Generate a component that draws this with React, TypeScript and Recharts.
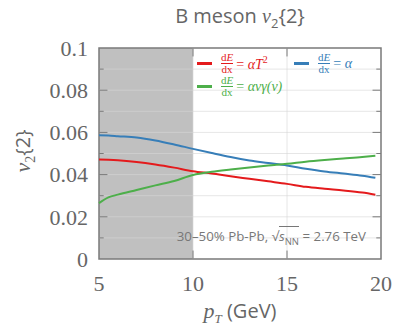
import React from "react";
import {
  LineChart,
  Line,
  XAxis,
  YAxis,
  ReferenceArea,
  ReferenceLine,
} from "recharts";

const pT = [5, 5.5, 6, 7, 8, 9, 10, 11, 12, 13, 14, 15, 16, 17, 18, 19, 19.7];
const vT2 = [0.0471, 0.047, 0.0468, 0.046, 0.0448, 0.0433, 0.0416, 0.0405, 0.0392, 0.038, 0.0368, 0.0356, 0.0342, 0.0333, 0.0325, 0.0315, 0.0305];
const vConst = [0.0586, 0.0585, 0.0582, 0.0576, 0.0562, 0.0543, 0.0522, 0.0502, 0.0483, 0.0467, 0.0455, 0.0443, 0.0428, 0.0415, 0.0405, 0.0395, 0.0385];
const vGamma = [0.0265, 0.0292, 0.0305, 0.0327, 0.0349, 0.037, 0.0398, 0.0413, 0.0424, 0.0434, 0.0443, 0.0451, 0.0461, 0.0469, 0.0476, 0.0483, 0.0489];

const xTicks = [5, 10, 15, 20];
const yTicks = [0, 0.02, 0.04, 0.06, 0.08, 0.1];
const yMinor = [0.01, 0.03, 0.05, 0.07, 0.09];
const yGrid = [0.01, 0.02, 0.03, 0.04, 0.05, 0.06, 0.07, 0.08, 0.09];
const xGrid = [10, 15];

const RED = "#e41a1c";
const BLUE = "#377eb8";
const GREEN = "#4daf4a";
const FRAME = "#7a7a7a";
const TEXT = "#666";

const data = pT.map((x, i) => ({ x, t2: vT2[i], c: vConst[i], g: vGamma[i] }));

const serif = "'Liberation Serif', 'DejaVu Serif', serif";
const sans = "'Open Sans', 'Noto Sans', sans-serif";

function Frac({ color }: { color: string }) {
  return (
    <span
      style={{
        display: "inline-flex",
        flexDirection: "column",
        alignItems: "center",
        fontFamily: serif,
        fontSize: 11,
        lineHeight: "11px",
        color,
        verticalAlign: "middle",
      }}
    >
      <span>
        d<i>E</i>
      </span>
      <span style={{ borderTop: `1px solid ${color}`, width: "100%", textAlign: "center" }}>dx</span>
    </span>
  );
}

function Item({ color, children }: { color: string; children: React.ReactNode }) {
  return (
    <div style={{ display: "flex", alignItems: "center", height: 23 }}>
      <span style={{ width: 15, height: 2.5, background: color, marginRight: 9, display: "inline-block" }} />
      <Frac color={color} />
      <span style={{ fontFamily: serif, fontSize: 14, color, marginLeft: 3, whiteSpace: "nowrap" }}>{children}</span>
    </div>
  );
}

function LegendBox() {
  return (
    <div style={{ position: "absolute", left: 197, top: 52, display: "flex", flexWrap: "wrap", width: 185 }}>
      <div style={{ width: 97 }}>
        <Item color={RED}>
          = <i>αT</i>
          <sup style={{ fontSize: 10 }}>2</sup>
        </Item>
      </div>
      <div style={{ width: 85 }}>
        <Item color={BLUE}>
          = <i>α</i>
        </Item>
      </div>
      <div style={{ width: 185 }}>
        <Item color={GREEN}>
          = <i>αvγ(v)</i>
        </Item>
      </div>
    </div>
  );
}

export default function App() {
  return (
    <div style={{ position: "absolute", left: 0, top: 0, width: 394, height: 327, background: "#fff" }}>
      <LineChart width={394} height={327} data={data} margin={{ top: 48, right: 13, bottom: 36, left: 0 }}>
        <XAxis
          dataKey="x"
          type="number"
          domain={[5, 20]}
          ticks={xTicks}
          axisLine={false}
          tickLine={false}
          height={32}
          tickMargin={10}
          tick={{ fill: TEXT, fontSize: 22, fontFamily: serif }}
        />
        <YAxis
          type="number"
          domain={[0, 0.1]}
          ticks={yTicks}
          axisLine={false}
          tickLine={false}
          width={99}
          tickMargin={5}
          tickFormatter={(v: number) => String(v)}
          tick={{ fill: TEXT, fontSize: 22, fontFamily: serif }}
        />
        <ReferenceArea x1={5} x2={10} y1={0} y2={0.1} fill="#c0c0c0" fillOpacity={1} stroke="none" />
        {yGrid.map((v) => (
          <ReferenceLine key={`gy${v}`} y={v} stroke="#d6d6d6" strokeOpacity={0.6} strokeWidth={1} />
        ))}
        {xGrid.map((v) => (
          <ReferenceLine key={`gx${v}`} x={v} stroke="#d6d6d6" strokeOpacity={0.6} strokeWidth={1} />
        ))}
        {yTicks.slice(1, -1).map((v) => (
          <ReferenceLine key={`tl${v}`} segment={[{ x: 5, y: v }, { x: 5.45, y: v }]} stroke={FRAME} strokeWidth={1} />
        ))}
        {yTicks.slice(1, -1).map((v) => (
          <ReferenceLine key={`tr${v}`} segment={[{ x: 19.55, y: v }, { x: 20, y: v }]} stroke={FRAME} strokeWidth={1} />
        ))}
        {yMinor.map((v) => (
          <ReferenceLine key={`ml${v}`} segment={[{ x: 5, y: v }, { x: 5.25, y: v }]} stroke={FRAME} strokeWidth={1} />
        ))}
        {yMinor.map((v) => (
          <ReferenceLine key={`mr${v}`} segment={[{ x: 19.75, y: v }, { x: 20, y: v }]} stroke={FRAME} strokeWidth={1} />
        ))}
        {xGrid.map((v) => (
          <ReferenceLine key={`tb${v}`} segment={[{ x: v, y: 0 }, { x: v, y: 0.004 }]} stroke={FRAME} strokeWidth={1} />
        ))}
        {xGrid.map((v) => (
          <ReferenceLine key={`tt${v}`} segment={[{ x: v, y: 0.096 }, { x: v, y: 0.1 }]} stroke={FRAME} strokeWidth={1} />
        ))}
        <ReferenceArea x1={5} x2={20} y1={0} y2={0.1} fill="none" stroke={FRAME} strokeWidth={1.5} />
        <Line type="monotone" dataKey="t2" stroke={RED} strokeWidth={2} dot={false} isAnimationActive={false} />
        <Line type="monotone" dataKey="c" stroke={BLUE} strokeWidth={2} dot={false} isAnimationActive={false} />
        <Line type="monotone" dataKey="g" stroke={GREEN} strokeWidth={2} dot={false} isAnimationActive={false} />
      </LineChart>

      <LegendBox />

      <div
        style={{
          position: "absolute",
          left: 90,
          width: 300,
          top: 2,
          textAlign: "center",
          fontFamily: sans,
          fontSize: 20,
          color: TEXT,
        }}
      >
        B meson <i style={{ fontFamily: serif }}>v</i>
        <sub style={{ fontSize: 13 }}>2</sub>
        {"{2}"}
      </div>

      <div
        style={{
          position: "absolute",
          left: 90,
          width: 300,
          top: 297,
          textAlign: "center",
          fontSize: 20,
          color: TEXT,
          fontFamily: sans,
        }}
      >
        <i style={{ fontFamily: serif, fontSize: 22 }}>p</i>
        <sub style={{ fontFamily: serif, fontStyle: "italic", fontSize: 13 }}>T</sub> (GeV)
      </div>

      <div
        style={{
          position: "absolute",
          left: 24,
          top: 151,
          transform: "translate(-50%, -50%) rotate(-90deg)",
          fontFamily: serif,
          fontSize: 22,
          color: TEXT,
          whiteSpace: "nowrap",
        }}
      >
        <i>v</i>
        <sub style={{ fontSize: 14 }}>2</sub>
        <span style={{ fontFamily: sans, fontSize: 20 }}>{"{2}"}</span>
      </div>

      <div
        style={{
          position: "absolute",
          right: 28,
          top: 227,
          fontFamily: sans,
          fontSize: 13.3,
          color: "#777",
          whiteSpace: "nowrap",
        }}
      >
        30–50% Pb-Pb, √<span style={{ borderTop: "1px solid #777" }}>
          <i>s</i>
          <sub style={{ fontSize: 9.5 }}>NN</sub>
        </span>{" "}
        = 2.76 TeV
      </div>
    </div>
  );
}
